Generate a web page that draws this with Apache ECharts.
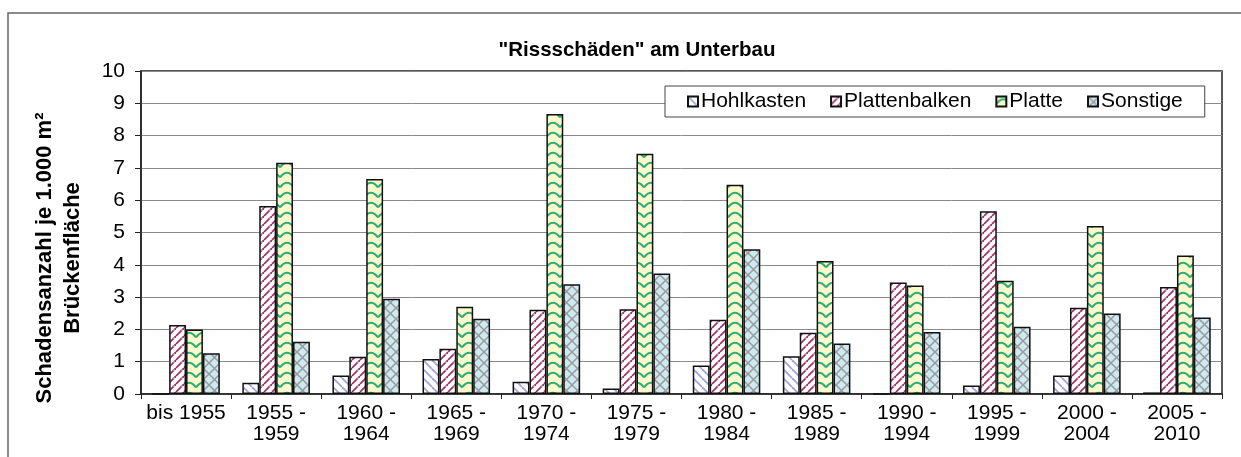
<!DOCTYPE html>
<html>
<head>
<meta charset="utf-8">
<script src="https://cdn.jsdelivr.net/npm/echarts@6/dist/echarts.min.js"></script>
<style>
  html, body { margin: 0; padding: 0; background: #fff; }
  #main { width: 1241px; height: 457px; }
</style>
</head>
<body>
<div id="main"></div>
<script>
const categories = ['bis 1955', '1955 -\n1959', '1960 -\n1964', '1965 -\n1969', '1970 -\n1974', '1975 -\n1979',
    '1980 -\n1984', '1985 -\n1989', '1990 -\n1994', '1995 -\n1999', '2000 -\n2004', '2005 -\n2010']
const hohlkasten = [0, 0.35, 0.57, 1.08, 0.38, 0.17, 0.88, 1.17, 0, 0.26, 0.57, 0.05]
const plattenbalken = [2.14, 5.82, 1.15, 1.4, 2.61, 2.62, 2.3, 1.9, 3.45, 5.66, 2.67, 3.31]
const platte = [2.0, 7.16, 6.66, 2.7, 8.67, 7.44, 6.48, 4.12, 3.36, 3.51, 5.2, 4.29]
const sonstige = [1.26, 1.62, 2.95, 2.33, 3.4, 3.73, 4.48, 1.56, 1.92, 2.08, 2.49, 2.37]

const FONT = 'Liberation Sans, Arial, sans-serif'

function pattern (w, h, bg, draw) {
    const c = document.createElement('canvas')
    c.width = w
    c.height = h
    const ctx = c.getContext('2d')
    ctx.fillStyle = bg
    ctx.fillRect(0, 0, w, h)
    draw(ctx)
    return { image: c, repeat: 'repeat' }
}

// weiss mit lila Schraffur "\"
const patHohl = pattern(9, 9, '#ffffff', ctx => {
    ctx.strokeStyle = '#a2a2de'
    ctx.lineWidth = 1.8
    for (let k = -1; k <= 1; k++) {
        ctx.beginPath()
        ctx.moveTo(k * 9, 0)
        ctx.lineTo(k * 9 + 9, 9)
        ctx.stroke()
    }
})

// weiss mit Schraffur "/" (leicht unterbrochen)
const patBalken = pattern(8, 8, '#ffffff', ctx => {
    ctx.strokeStyle = '#a3326c'
    ctx.lineWidth = 1.8
    for (let k = -1; k <= 1; k++) {
        ctx.beginPath()
        ctx.moveTo(k * 8, 8)
        ctx.lineTo(k * 8 + 8, 0)
        ctx.stroke()
    }
    // kleine Luecke in der Linie
    ctx.fillStyle = '#ffffff'
    ctx.fillRect(5.5, 1.5, 1.2, 1.2)
})

// gelb mit gruenen Wellen
const patPlatte = pattern(14, 10, '#fbf9cb', ctx => {
    ctx.strokeStyle = '#2eab7a'
    ctx.lineWidth = 2.1
    ctx.beginPath()
    ctx.moveTo(0, 7.5)
    ctx.quadraticCurveTo(7, -2, 14, 7.5)
    ctx.stroke()
})

// hellblau mit grauer Kreuzschraffur
const patSonst = pattern(11, 11, '#cde9f1', ctx => {
    ctx.strokeStyle = '#9a9a9a'
    ctx.lineWidth = 1.5
    ctx.beginPath()
    ctx.moveTo(0, 0)
    ctx.lineTo(11, 11)
    ctx.moveTo(0, 11)
    ctx.lineTo(11, 0)
    ctx.stroke()
})

const chart = echarts.init(document.getElementById('main'))

function bar (name, data, color) {
    return {
        name,
        type: 'bar',
        data,
        barGap: 0,
        barCategoryGap: '25%',
        itemStyle: { color, borderColor: '#111', borderWidth: 1.5 }
    }
}

chart.setOption({
    animation: false,
    backgroundColor: '#fff',
    textStyle: { fontFamily: FONT },
    title: {
        text: '"Rissschäden" am Unterbau',
        left: 632,
        textAlign: 'center',
        top: 35,
        textStyle: { fontSize: 20.5, fontWeight: 'bold', color: '#000', fontFamily: FONT }
    },
    graphic: [{
        type: 'rect',
        shape: { x: 8, y: 13, width: 1300, height: 500 },
        style: { fill: 'none', stroke: '#666', lineWidth: 1.5 },
        silent: true
    }, {
        type: 'text',
        x: 59,
        y: 258,
        rotation: Math.PI / 2,
        style: {
            text: 'Schadensanzahl je 1.000 m²\nBrückenfläche',
            align: 'center',
            verticalAlign: 'middle',
            fontFamily: FONT,
            fontSize: 22,
            fontWeight: 'bold',
            lineHeight: 28,
            fill: '#000'
        }
    }],
    legend: {
        left: 665,
        top: 86,
        padding: [5, 22],
        itemGap: 24,
        itemWidth: 10,
        itemHeight: 10,
        icon: 'rect',
        backgroundColor: '#fff',
        borderColor: '#444',
        borderWidth: 1,
        textStyle: { fontSize: 21, color: '#000', fontFamily: FONT, padding: [0, 0, 0, -2] },
        data: ['Hohlkasten', 'Plattenbalken', 'Platte', 'Sonstige']
    },
    grid: {
        left: 141,
        right: 19,
        top: 71,
        bottom: 63,
        show: true,
        borderColor: '#222',
        borderWidth: 1.5
    },
    xAxis: {
        type: 'category',
        data: categories,
        axisLine: { lineStyle: { color: '#222', width: 1.5 } },
        axisTick: { show: true, length: 5, lineStyle: { color: '#222' } },
        axisLabel: { fontSize: 21, color: '#000', lineHeight: 21, margin: 9, interval: 0 }
    },
    yAxis: {
        type: 'value',
        min: 0,
        max: 10,
        interval: 1,
        axisLine: { show: true, lineStyle: { color: '#222', width: 1.5 } },
        axisTick: { show: true, length: 6, lineStyle: { color: '#222' } },
        axisLabel: { fontSize: 21, color: '#000', margin: 16 },
        splitLine: { lineStyle: { color: '#8a8a8a', width: 1 } }
    },
    series: [
        bar('Hohlkasten', hohlkasten, patHohl),
        bar('Plattenbalken', plattenbalken, patBalken),
        bar('Platte', platte, patPlatte),
        bar('Sonstige', sonstige, patSonst)
    ]
})
</script>
</body>
</html>
